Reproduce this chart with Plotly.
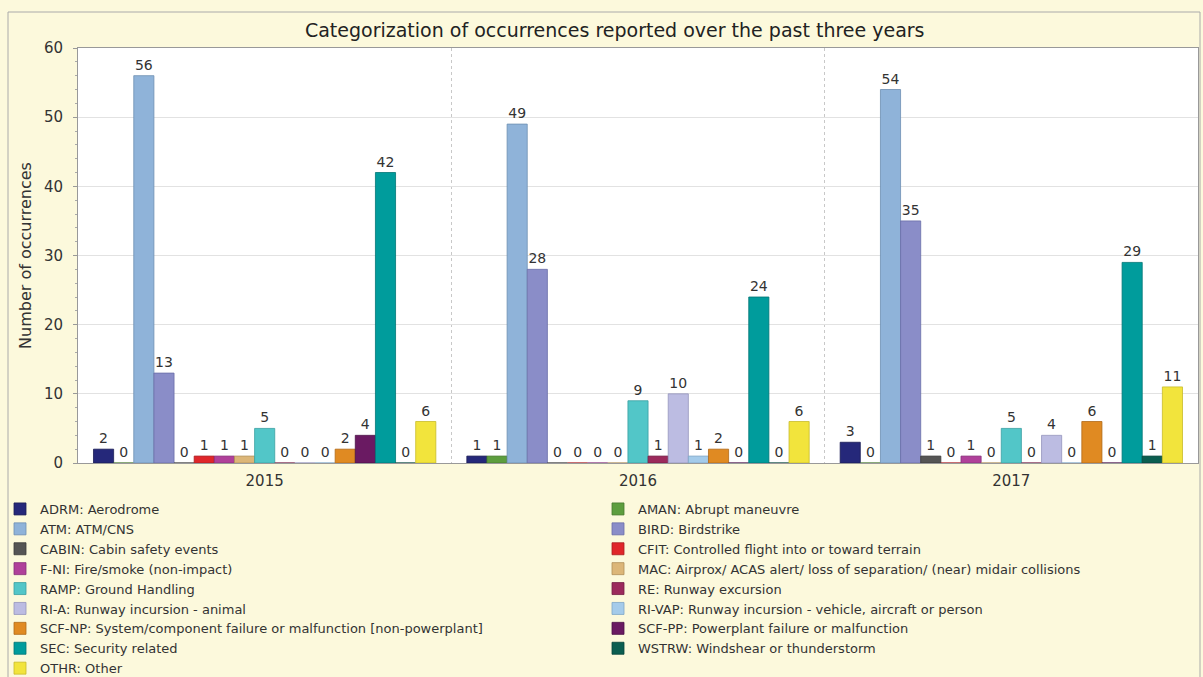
import plotly.graph_objects as go

years = ["2015", "2016", "2017"]
codes = ["ADRM", "AMAN", "ATM", "BIRD", "CABIN", "CFIT", "F-NI", "MAC", "RAMP",
         "RE", "RI-A", "RI-VAP", "SCF-NP", "SCF-PP", "SEC", "WSTRW", "OTHR"]
names = ["ADRM: Aerodrome", "AMAN: Abrupt maneuvre", "ATM: ATM/CNS", "BIRD: Birdstrike",
         "CABIN: Cabin safety events", "CFIT: Controlled flight into or toward terrain",
         "F-NI: Fire/smoke (non-impact)",
         "MAC: Airprox/ ACAS alert/ loss of separation/ (near) midair collisions",
         "RAMP: Ground Handling", "RE: Runway excursion", "RI-A: Runway incursion - animal",
         "RI-VAP: Runway incursion - vehicle, aircraft or person",
         "SCF-NP: System/component failure or malfunction [non-powerplant]",
         "SCF-PP: Powerplant failure or malfunction", "SEC: Security related",
         "WSTRW: Windshear or thunderstorm", "OTHR: Other"]
v2015 = [2, 0, 56, 13, 0, 1, 1, 1, 5, 0, 0, 0, 2, 4, 42, 0, 6]
v2016 = [1, 1, 49, 28, 0, 0, 0, 0, 9, 1, 10, 1, 2, 0, 24, 0, 6]
v2017 = [3, 0, 54, 35, 1, 0, 1, 0, 5, 0, 4, 0, 6, 0, 29, 1, 11]
colors = ["#25287a", "#5d9e3e", "#8fb3d9", "#8a8dc8", "#555555", "#e0262a", "#b0409a",
          "#dcb678", "#52c6c8", "#9c2a5c", "#bcbce2", "#a4cbea", "#e08a22", "#6a1a62",
          "#009c9c", "#0b5e50", "#f2e43c"]
lines = ["#1a1d55", "#467a2e", "#6d8fb3", "#6a6da8", "#3a3a3a", "#a81c20", "#86307a",
         "#b08f58", "#3aa0a2", "#741f45", "#9494bc", "#7ea6c6", "#b06a18", "#4a1046",
         "#007575", "#06443a", "#c8bb2a"]

FONT = "DejaVu Sans, Verdana, sans-serif"
L, T, R, B = 78, 48, 5, 214
W, H = 1203, 677
PW, PH = W - L - R, H - T - B

fig = go.Figure()
for i, c in enumerate(codes):
    vals = [v2015[i], v2016[i], v2017[i]]
    fig.add_trace(go.Bar(
        x=years, y=vals, name=names[i],
        marker=dict(color=colors[i], line=dict(color=lines[i], width=0.8)),
        text=[str(v) for v in vals], textposition="outside",
        textfont=dict(size=14, color="#333333", family=FONT),
        cliponaxis=False,
    ))

fig.update_layout(
    width=W, height=H,
    barmode="group", bargap=0.083, bargroupgap=0,
    paper_bgcolor="#fcf9dc", plot_bgcolor="#ffffff",
    font=dict(family=FONT, color="#333333", size=13),
    margin=dict(l=L, r=R, t=T, b=B, autoexpand=False),
    title=dict(text="Categorization of occurrences reported over the past three years",
               x=0.511, xanchor="center", yref="container", y=1 - 30 / H, yanchor="middle",
               font=dict(size=19, color="#222222", family=FONT)),
    legend=dict(orientation="h", xref="paper", yref="paper",
                x=(0 - L) / PW, y=(PH + T - 494) / PH, xanchor="left", yanchor="top",
                entrywidth=553, entrywidthmode="pixels", traceorder="normal",
                font=dict(size=13, color="#333333", family=FONT), bgcolor="rgba(0,0,0,0)",
                itemwidth=30, tracegroupgap=0),
)
fig.update_yaxes(range=[0, 60], dtick=10, showgrid=True, gridcolor="#e2e2e2",
                 showline=True, linecolor="#999999", mirror=True,
                 ticks="outside", ticklen=4, tickcolor="#999999",
                 minor=dict(dtick=2, ticks="outside", ticklen=2, tickcolor="#aaaaaa"),
                 tickfont=dict(size=15, color="#333333"), ticklabelstandoff=7,
                 title=dict(text="Number of occurrences", font=dict(size=16, color="#333333"),
                            standoff=8),
                 zeroline=False)
fig.update_xaxes(showline=True, linecolor="#999999", mirror=True,
                 tickson="boundaries", showgrid=True, gridcolor="#c8c8c8", griddash="dot",
                 ticks="", tickfont=dict(size=15, color="#333333"), ticklabelstandoff=4)
fig.add_shape(type="rect", xref="paper", yref="paper",
              x0=(8 - L) / PW, x1=(W - 3 - L) / PW, y0=-0.7, y1=(PH + T - 12) / PH,
              line=dict(color="#aaaaaa", width=1), fillcolor="rgba(0,0,0,0)", layer="below")
fig.write_html("out.html", config={"displayModeBar": False},
               post_script="document.body.style.margin='0';")
